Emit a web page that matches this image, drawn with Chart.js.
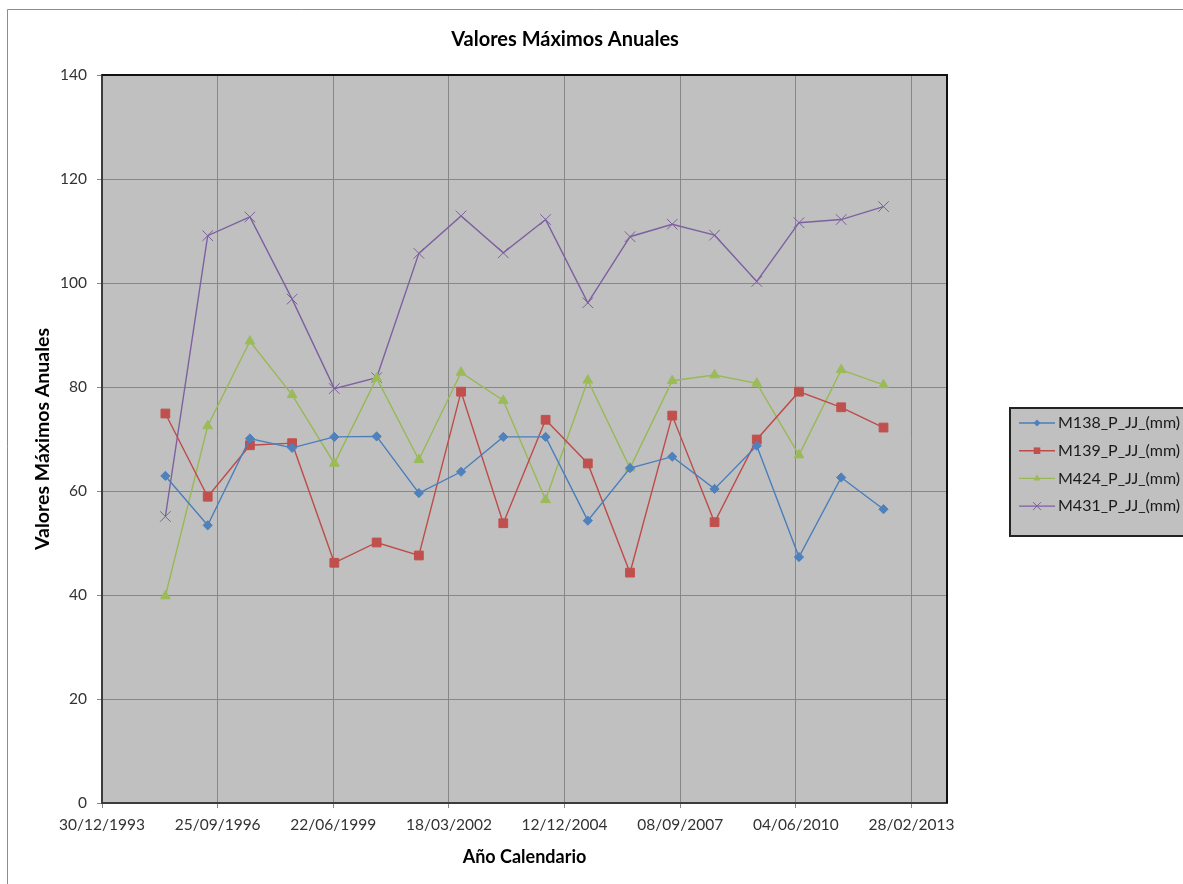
<!DOCTYPE html>
<html>
<head>
<meta charset="utf-8">
<title>Valores Máximos Anuales</title>
<script src="https://cdn.jsdelivr.net/npm/chart.js@4.4.1/dist/chart.umd.min.js"></script>
<style>
  html, body { margin: 0; padding: 0; background: #ffffff; overflow: hidden; }
  #wrap { position: relative; width: 1183px; height: 884px; }
  canvas { display: block; }
</style>
</head>
<body>
<div id="wrap"><canvas id="grafico" width="1183" height="884"></canvas></div>
<script>
// Fechas de cada máximo anual (una por año hidrológico)
const fechas = [
  '1995-07-01', '1996-07-01', '1997-07-01', '1998-07-01', '1999-07-01', '2000-07-01',
  '2001-07-01', '2002-07-01', '2003-07-01', '2004-07-01', '2005-07-01', '2006-07-01',
  '2007-07-01', '2008-07-01', '2009-07-01', '2010-07-01', '2011-07-01', '2012-07-01'
];

// Precipitación máxima anual en 24 h por estación (mm)
const m138 = [62.9, 53.4, 70.1, 68.3, 70.4, 70.5, 59.6, 63.7, 70.4, 70.4, 54.3, 64.4, 66.6, 60.4, 68.7, 47.3, 62.6, 56.5];
const m139 = [74.9, 58.9, 68.8, 69.2, 46.2, 50.1, 47.6, 79.1, 53.8, 73.7, 65.3, 44.3, 74.5, 54.0, 69.9, 79.1, 76.1, 72.2];
const m424 = [39.8, 72.5, 88.8, 78.5, 65.3, 81.7, 66.0, 82.8, 77.4, 58.3, 81.3, 64.4, 81.2, 82.3, 80.7, 66.9, 83.3, 80.4];
const m431 = [55.1, 109.1, 112.7, 96.9, 79.7, 81.8, 105.7, 112.9, 105.8, 112.2, 96.2, 108.9, 111.3, 109.2, 100.3, 111.6, 112.2, 114.7];

const nombresSeries = ['M138_P_JJ_(mm)', 'M139_P_JJ_(mm)', 'M424_P_JJ_(mm)', 'M431_P_JJ_(mm)'];

// Eje de fechas: origen, final y separación entre marcas (días)
const inicioEje = '1993-12-30';
const finEje = '2014-01-01';
const pasoDias = 1000;

// Eje de valores
const valorMin = 0;
const valorMax = 140;
const pasoValor = 20;

const DIA_MS = 86400000;
const origenMs = Date.parse(inicioEje);
const aDias = f => Math.round((Date.parse(f) - origenMs) / DIA_MS);
const diasFin = aDias(finEje);
const dd = n => String(n).padStart(2, '0');
const formatoFecha = dias => {
  const d = new Date(origenMs + dias * DIA_MS);
  return dd(d.getUTCDate()) + '/' + dd(d.getUTCMonth() + 1) + '/' + d.getUTCFullYear();
};

const FUENTE = 'Lato, "Open Sans", sans-serif';

const estilos = [
  { linea: '#4a7ebb', marca: '#4f81bd', forma: 'rectRot', radio: 4.6 },
  { linea: '#be4b48', marca: '#c0504d', forma: 'rect', radio: 6.2 },
  { linea: '#98b954', marca: '#9bbb59', forma: 'triangle', radio: 5.6 },
  { linea: '#7d60a0', marca: '#8064a2', forma: 'crossRot', radio: 7.5 }
];

const series = [m138, m139, m424, m431];
const xDias = fechas.map(aDias);

const datasets = series.map((valores, i) => ({
  label: nombresSeries[i],
  data: valores.map((v, j) => ({ x: xDias[j], y: v })),
  borderColor: estilos[i].linea,
  backgroundColor: estilos[i].marca,
  borderWidth: 1.4,
  pointStyle: estilos[i].forma,
  pointRadius: estilos[i].radio,
  pointHoverRadius: estilos[i].radio,
  pointBackgroundColor: estilos[i].marca,
  pointBorderColor: estilos[i].forma === 'crossRot' ? estilos[i].linea : estilos[i].marca,
  pointBorderWidth: 1,
  tension: 0,
  fill: false
}));

// Fondo, marco exterior y área de trazado
const fondo = {
  id: 'fondo',
  beforeDraw(chart) {
    const { ctx, chartArea: a } = chart;
    ctx.save();
    ctx.fillStyle = '#ffffff';
    ctx.fillRect(0, 0, chart.width, chart.height);
    ctx.strokeStyle = '#8c8c8c';
    ctx.lineWidth = 1;
    ctx.beginPath();
    ctx.moveTo(7.5, chart.height);
    ctx.lineTo(7.5, 9.5);
    ctx.lineTo(chart.width, 9.5);
    ctx.stroke();
    ctx.fillStyle = '#c0c0c0';
    ctx.fillRect(a.left, a.top, a.right - a.left, a.bottom - a.top);
    ctx.restore();
  }
};

// Bordes superior y derecho del área de trazado, título y leyenda
const adornos = {
  id: 'adornos',
  afterDraw(chart) {
    const { ctx, chartArea: a } = chart;
    ctx.save();
    ctx.strokeStyle = '#111111';
    ctx.lineWidth = 2;
    ctx.beginPath();
    ctx.moveTo(a.left, a.top);
    ctx.lineTo(a.right, a.top);
    ctx.lineTo(a.right, a.bottom);
    ctx.stroke();

    // Título
    ctx.fillStyle = '#000000';
    ctx.font = 'bold 20px ' + FUENTE;
    ctx.textAlign = 'center';
    ctx.textBaseline = 'middle';
    ctx.fillText('Valores Máximos Anuales', 565, 40);

    // Leyenda
    const caja = { x: 1010, y: 408, w: 200, h: 128 };
    ctx.fillStyle = '#c0c0c0';
    ctx.fillRect(caja.x, caja.y, caja.w, caja.h);
    ctx.strokeStyle = '#222222';
    ctx.lineWidth = 2;
    ctx.strokeRect(caja.x, caja.y, caja.w, caja.h);
    ctx.font = '16px ' + FUENTE;
    ctx.textAlign = 'left';
    ctx.textBaseline = 'middle';
    chart.data.datasets.forEach((ds, i) => {
      const y = 423 + i * 27.7;
      ctx.strokeStyle = ds.borderColor;
      ctx.lineWidth = 1.4;
      ctx.beginPath();
      ctx.moveTo(1019, y);
      ctx.lineTo(1055, y);
      ctx.stroke();
      const r = ds.pointRadius * 0.75;
      ctx.fillStyle = ds.pointBackgroundColor;
      ctx.strokeStyle = ds.pointBorderColor;
      ctx.lineWidth = 1;
      const cx = 1037;
      ctx.beginPath();
      if (ds.pointStyle === 'rectRot') {
        ctx.moveTo(cx, y - r); ctx.lineTo(cx + r, y); ctx.lineTo(cx, y + r); ctx.lineTo(cx - r, y); ctx.closePath();
        ctx.fill();
      } else if (ds.pointStyle === 'rect') {
        const s = r * Math.SQRT1_2;
        ctx.rect(cx - s, y - s, 2 * s, 2 * s);
        ctx.fill();
      } else if (ds.pointStyle === 'triangle') {
        ctx.moveTo(cx, y - r); ctx.lineTo(cx + r * 0.87, y + r * 0.5); ctx.lineTo(cx - r * 0.87, y + r * 0.5); ctx.closePath();
        ctx.fill();
      } else {
        const s = r * Math.SQRT1_2;
        ctx.moveTo(cx - s, y - s); ctx.lineTo(cx + s, y + s);
        ctx.moveTo(cx + s, y - s); ctx.lineTo(cx - s, y + s);
        ctx.stroke();
      }
      ctx.fillStyle = '#1a1a1a';
      ctx.fillText(ds.label, 1058, y);
    });
    ctx.restore();
  }
};

const colorRejilla = '#878787';
const colorTexto = '#333333';

new Chart(document.getElementById('grafico'), {
  type: 'line',
  data: { datasets },
  plugins: [fondo, adornos],
  options: {
    responsive: false,
    animation: false,
    devicePixelRatio: 1,
    layout: { padding: { left: 0, top: 75, right: 236, bottom: 0 } },
    plugins: {
      legend: { display: false },
      title: { display: false },
      tooltip: { enabled: false }
    },
    scales: {
      x: {
        type: 'linear',
        min: 0,
        max: diasFin,
        afterBuildTicks(eje) {
          const marcas = [];
          for (let v = 0; v <= diasFin; v += pasoDias) marcas.push({ value: v });
          eje.ticks = marcas;
        },
        afterFit(eje) { eje.height = 81; },
        ticks: {
          callback: v => formatoFecha(v),
          font: { family: FUENTE, size: 15.5 },
          color: colorTexto,
          padding: 8,
          maxRotation: 0,
          autoSkip: false
        },
        grid: { color: colorRejilla, lineWidth: 1, tickLength: 5, drawTicks: true },
        border: { color: '#3c3c3c', width: 2 },
        title: {
          display: true,
          text: 'Año Calendario',
          font: { family: FUENTE, size: 18, weight: 'bold' },
          color: '#000000',
          padding: { top: 0, bottom: 16 }
        }
      },
      y: {
        type: 'linear',
        min: valorMin,
        max: valorMax,
        afterFit(eje) { eje.width = 102; },
        ticks: {
          stepSize: pasoValor,
          font: { family: FUENTE, size: 15.5 },
          color: colorTexto,
          padding: 10
        },
        grid: { color: colorRejilla, lineWidth: 1, tickLength: 5, drawTicks: true },
        border: { color: '#3c3c3c', width: 2 },
        title: {
          display: true,
          text: 'Valores Máximos Anuales',
          font: { family: FUENTE, size: 19.5, weight: 'bold' },
          color: '#000000',
          padding: { top: 31, bottom: 0 }
        }
      }
    }
  }
});
</script>
</body>
</html>
